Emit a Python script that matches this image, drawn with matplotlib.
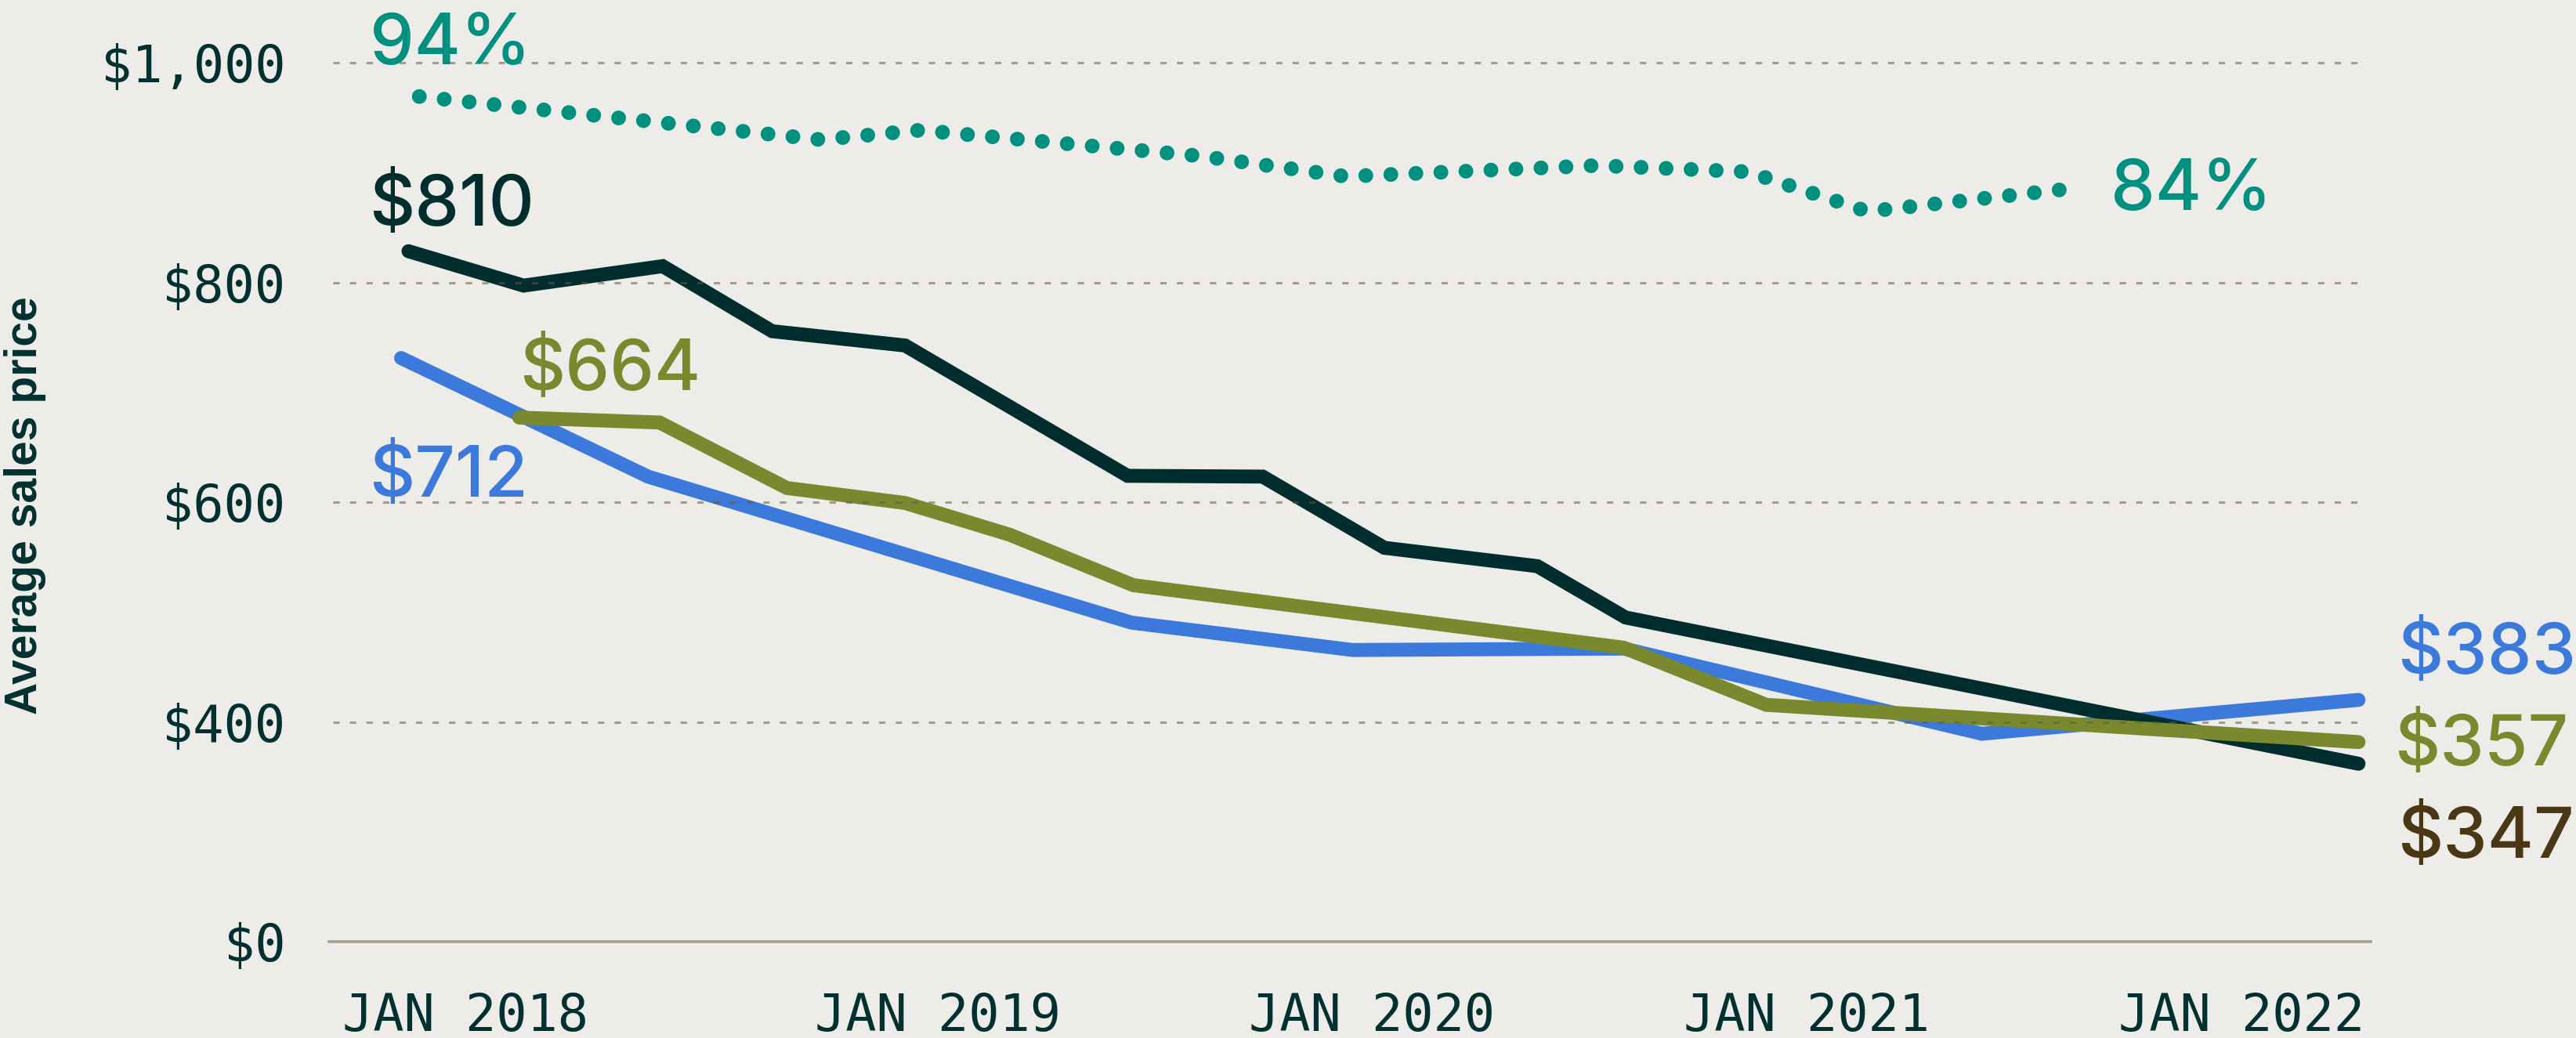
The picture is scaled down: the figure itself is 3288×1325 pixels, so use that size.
#!/usr/bin/env python3
"""Average sales price by series, 2018-2022, with the share line on top."""
import numpy as np
import matplotlib
matplotlib.use("Agg")
import matplotlib.pyplot as plt
from matplotlib.transforms import ScaledTranslation

# --- data (decimal years, dollars / percent) -------------------------------
dark_x = [2017.782, 2018.047, 2018.367, 2018.619, 2018.925, 2019.437,
          2019.748, 2020.028, 2020.380, 2020.583, 2022.270]
dark_y = [828.6, 797.3, 815.0, 755.8, 742.8, 624.2, 623.5, 558.7, 542.0,
          495.3, 324.4]

blue_x = [2017.765, 2018.334, 2019.446, 2019.955, 2020.579, 2021.403, 2022.270]
blue_y = [731.4, 623.4, 490.6, 465.7, 467.0, 379.0, 420.3]

olive_x = [2018.037, 2018.360, 2018.653, 2018.925, 2019.165, 2019.450,
           2020.579, 2020.907, 2022.270]
olive_y = [677.2, 672.7, 613.1, 599.5, 570.7, 524.7, 467.8, 415.8, 363.8]

share_x = [2017.807, 2018.730, 2018.960, 2019.600, 2019.939, 2020.517,
           2020.865, 2021.140, 2021.601]
share_y = [94.0, 89.34, 90.36, 87.59, 85.36, 86.54, 85.86, 81.57, 84.0]

ytick_vals = [0, 400, 600, 800, 1000]
ytick_labels = ["$0", "$400", "$600", "$800", "$1,000"]
xtick_vals = [2018, 2019, 2020, 2021, 2022]
xtick_labels = ["JAN 2018", "JAN 2019", "JAN 2020", "JAN 2021", "JAN 2022"]

BG = "#EDECE8"
DARK = "#002E2F"
BLUE = "#3B7ADB"
OLIVE = "#7A882E"
TEAL = "#009080"
BROWN = "#4A3714"
INK = "#00302F"

plt.rcParams["lines.scale_dashes"] = False


# y axis is compressed below $400: equal spacing for 0-400 and each 200 step
def fwd(v):
    v = np.asarray(v, dtype=float)
    return np.where(v <= 400, v / 400.0, 1 + (v - 400) / 200.0)


def inv(p):
    p = np.asarray(p, dtype=float)
    return np.where(p <= 1, p * 400.0, 400 + (p - 1) * 200.0)


fig = plt.figure(figsize=(16.44, 6.625), dpi=200, facecolor=BG)
ax = fig.add_axes([0.1277, 0.0925, 0.7926, 0.8893])
ax.set_facecolor(BG)
ax.set_yscale("function", functions=(fwd, inv))
ax.set_ylim(0, 1040)
ax.set_xlim(2017.599, 2022.298)

line_kw = dict(lw=6.4, solid_capstyle="round", solid_joinstyle="miter")
ax.plot(dark_x, dark_y, color=DARK, zorder=3, **line_kw)
ax.plot(blue_x, blue_y, color=BLUE, zorder=2.9, **line_kw)
ax.plot(olive_x, olive_y, color=OLIVE, zorder=3.1, **line_kw)

# dashed grid drawn over the lines, semi transparent
for v in ytick_vals[1:]:
    ax.axhline(v, xmin=0.002, xmax=0.994, color="#66593F", alpha=0.55,
               lw=1.1, ls=(0, (2.9, 4.7)), zorder=5)

for s in ["top", "right", "left"]:
    ax.spines[s].set_visible(False)
ax.spines["bottom"].set_color("#A69F8C")
ax.spines["bottom"].set_linewidth(1.3)

ax.set_yticks(ytick_vals)
ax.set_yticklabels(ytick_labels)
ax.set_xticks(xtick_vals)
ax.set_xticklabels(xtick_labels)
ax.yaxis.set_minor_locator(matplotlib.ticker.NullLocator())
ax.tick_params(axis="y", length=0, pad=20, labelsize=23.5, labelcolor=INK)
ax.tick_params(axis="x", length=0, pad=23, labelsize=23.5, labelcolor=INK)
for lab in ax.get_xticklabels() + ax.get_yticklabels():
    lab.set_fontfamily("DejaVu Sans Mono")
# first date label sits flush with the left end of the axis
first = ax.get_xticklabels()[0]
first.set_transform(first.get_transform()
                    + ScaledTranslation(-48 / 200, 0, fig.dpi_scale_trans))

# share line on its own hidden scale
ax2 = ax.twinx()
ax2.set_ylim(2.54, 102.4)
ax2.axis("off")
ax2.plot(share_x, share_y, color=TEAL, lw=6.8, ls=(0, (0.01, 11.5)),
         dash_capstyle="round", zorder=4)

lab_kw = dict(fontsize=32.5, family="Inter", fontweight="medium",
              va="baseline", ha="left")
ax2.text(2017.693, 97.5, "94%", color=TEAL, **lab_kw)
ax2.text(2021.700, 81.74, "84%", color=TEAL, **lab_kw)
ax.text(2017.691, 851.9, "$810", color=DARK, **lab_kw)
ax.text(2017.691, 605.3, "$712", color=BLUE, **lab_kw)
ax.text(2018.037, 702.2, "$664", color=OLIVE, **lab_kw)
ax.text(2022.360, 444.2, "$383", color=BLUE, clip_on=False, **lab_kw)
ax.text(2022.353, 321.5, "$357", color=OLIVE, clip_on=False, **lab_kw)
ax.text(2022.360, 153.3, "$347", color=BROWN, clip_on=False, **lab_kw)

fig.text(32 / 3288, 1 - 645 / 1325, "Average sales price", rotation=90,
         ha="center", va="center", fontsize=20.5, fontweight="bold",
         family="Liberation Sans", color=INK)

fig.savefig("out.png", dpi=200, facecolor=BG)
